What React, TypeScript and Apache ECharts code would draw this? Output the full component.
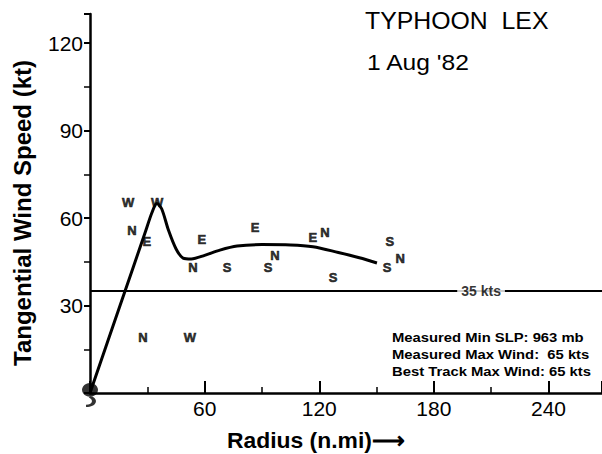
import React, { useEffect, useRef } from "react";
import * as echarts from "echarts";

const profileRadius = [0, 16, 29, 32.5, 35, 37.5, 41, 45, 48.7, 53, 60, 68, 77, 90, 105, 116.7, 130, 141, 150.2];
const profileWind = [0, 30.5, 55.3, 62, 65, 63.2, 56, 49.5, 46.3, 46, 47.2, 49, 50.4, 50.9, 50.8, 50.2, 48.2, 46.4, 44.6];

const obsRadius = [19.9, 35.1, 22.0, 29.8, 58.6, 86.4, 53.9, 71.7, 93.2, 96.8, 116.7, 123, 127.2, 157, 155.5, 162.3, 27.7, 52.3];
const obsWind = [65.2, 65.5, 55.9, 51.8, 52.8, 56.9, 43.2, 43.2, 43.2, 47.3, 53.5, 55.2, 39.5, 51.8, 42.9, 46.3, 19.2, 19.2];
const obsLetter = ["W", "W", "N", "E", "E", "E", "N", "S", "S", "N", "E", "N", "S", "S", "S", "N", "N", "W"];

const thresholdWind = 35;
const thresholdLabel = "35 kts";
const thresholdLabelRadius = 204.7;

const xTickInterval = 60;
const yTickInterval = 30;
const xMax = 268;
const yMax = 130;

const xTitle = "Radius (n.mi)\u27F6";
const yTitle = "Tangential Wind Speed (kt)";
const titleLines = ["TYPHOON  LEX", "1 Aug '82"];
const infoLines = ["Measured Min SLP: 963 mb", "Measured Max Wind:  65 kts", "Best Track Max Wind: 65 kts"];

const FONT = "'Liberation Sans', Arial, sans-serif";

export default function App() {
  const ref = useRef<HTMLDivElement>(null);
  useEffect(() => {
    document.body.style.margin = "0";
    const chart = echarts.init(ref.current!, null, { renderer: "svg" });
    const profile = profileRadius.map((r, i) => [r, profileWind[i]]);
    const obs = obsRadius.map((r, i) => ({ value: [r, obsWind[i]], name: obsLetter[i] }));
    const typhoonPath =
      "path://M10 9 A6 6 0 1 1 9.99 9 Z M11 20.5 C17 23 15 30 7 30 L7 28 C12 28 13 24 9 21.5 Z";
    chart.setOption({
      animation: false,
      backgroundColor: "#ffffff",
      grid: { left: 90, right: 0, top: 14, bottom: 61, outerBoundsMode: "none", containLabel: false },
      xAxis: {
        type: "value",
        min: 0,
        max: xMax,
        interval: xTickInterval,
        axisLine: { show: true, lineStyle: { color: "#000", width: 2.5 } },
        axisTick: { show: true, inside: true, length: 12, lineStyle: { color: "#000", width: 2 } },
        minorTick: { show: true, splitNumber: 2, length: 6, lineStyle: { color: "#000", width: 1.5 } },
        splitLine: { show: false },
        axisLabel: {
          color: "#000",
          fontFamily: FONT,
          fontSize: 21,
          margin: 5,
          showMaxLabel: false,
          formatter: (v: number) => (v === 0 ? "" : String(v)),
        },
      },
      yAxis: {
        type: "value",
        min: 0,
        max: yMax,
        interval: yTickInterval,
        offset: 4,
        axisLine: { show: true, lineStyle: { color: "#000", width: 2.5 } },
        axisTick: { show: true, inside: false, length: 6, lineStyle: { color: "#000", width: 2 } },
        minorTick: { show: true, splitNumber: 2, length: 6, lineStyle: { color: "#000", width: 1.5 } },
        splitLine: { show: false },
        axisLabel: {
          color: "#000",
          fontFamily: FONT,
          fontSize: 21,
          margin: 3,
          showMaxLabel: false,
          formatter: (v: number) => (v === 0 ? "" : String(v)),
        },
      },
      series: [
        {
          type: "line",
          data: profile,
          smooth: 0.3,
          showSymbol: false,
          lineStyle: { color: "#000", width: 3 },
          markLine: {
            silent: true,
            symbol: "none",
            label: { show: false },
            lineStyle: { color: "#000", width: 2, type: "solid" },
            data: [[{ coord: [0, thresholdWind] }, { coord: [xMax, thresholdWind] }]],
          },
          z: 3,
        },
        {
          type: "scatter",
          data: obs,
          symbolSize: 1,
          itemStyle: { color: "rgba(0,0,0,0)" },
          label: {
            show: true,
            position: "inside",
            formatter: (p: any) => p.name,
            color: "#000",
            fontFamily: FONT,
            fontSize: 13,
            fontWeight: "bold",
            textBorderColor: "#000",
            textBorderWidth: 0.6,
          },
          z: 4,
        },
        {
          type: "scatter",
          data: [{ value: [thresholdLabelRadius, thresholdWind], name: thresholdLabel }],
          symbolSize: 1,
          itemStyle: { color: "rgba(0,0,0,0)" },
          label: {
            show: true,
            position: "inside",
            formatter: (p: any) => p.name,
            color: "#000",
            fontFamily: FONT,
            fontSize: 14,
            fontWeight: "bold",
            backgroundColor: "#fff",
            padding: [1, 4],
          },
          z: 5,
        },
        {
          type: "scatter",
          data: [[0, 0]],
          symbol: typhoonPath,
          symbolSize: [16, 24],
          symbolOffset: [0, 2],
          itemStyle: { color: "#000" },
          z: 6,
        },
      ],
      graphic: [
        {
          type: "text",
          x: 227,
          y: 441,
          scaleX: 1.04,
          style: {
            text: xTitle,
            fill: "#000",
            font: `bold 22px ${FONT}`,
            verticalAlign: "middle",
            align: "left",
          },
        },
        {
          type: "text",
          x: 22,
          y: 213,
          rotation: Math.PI / 2,
          style: {
            text: yTitle,
            fill: "#000",
            font: `bold 24px ${FONT}`,
            verticalAlign: "middle",
            align: "center",
          },
        },
        {
          type: "text",
          x: 365,
          y: 9,
          scaleX: 1.08,
          style: { text: titleLines[0], fill: "#000", font: `23px ${FONT}` },
        },
        {
          type: "text",
          x: 367,
          y: 51,
          scaleX: 1.12,
          style: { text: titleLines[1], fill: "#000", font: `22px ${FONT}` },
        },
        ...infoLines.map((t, i) => ({
          type: "text",
          x: 392,
          y: 331 + i * 17,
          scaleX: 1.14,
          style: { text: t, fill: "#000", font: `bold 13px ${FONT}` },
        })),
      ],
    });
    return () => chart.dispose();
  }, []);
  return <div ref={ref} style={{ position: "fixed", left: 0, top: 0, width: 602, height: 454 }} />;
}
